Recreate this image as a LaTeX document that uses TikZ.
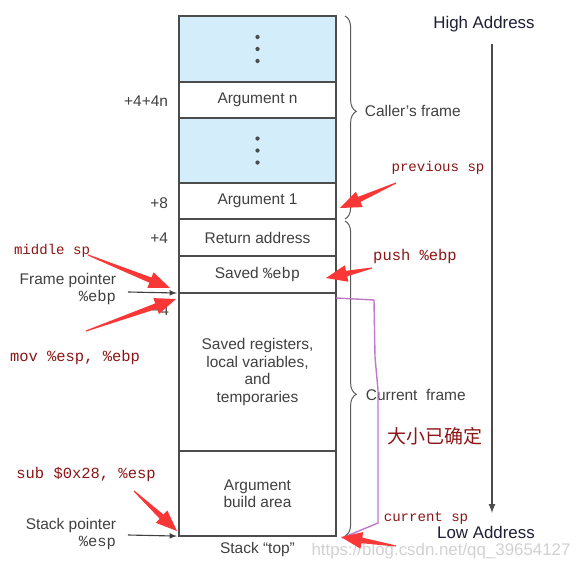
\documentclass[tikz,border=0pt]{standalone}
\usepackage{fontspec}
\setmainfont{Liberation Sans}
\setmonofont{Liberation Mono}
\newfontfamily\cjk{Noto Sans CJK SC}
\usepackage{tikz}
\usetikzlibrary{positioning, calc, decorations.pathreplacing}
\definecolor{cellblue}{RGB}{212,237,250}
\definecolor{annored}{RGB}{140,20,20}
\definecolor{arrowred}{RGB}{250,55,55}
\definecolor{framepurple}{RGB}{190,120,200}
\definecolor{addrnavy}{RGB}{30,30,55}
\tikzset{
    cell/.style={draw=black!70, line width=1.1pt, minimum width=3.925cm, inner sep=0pt, outer sep=0pt, align=center, text=black!75, font=\fontsize{11}{12.5}\selectfont},
    dotcell/.style={cell, fill=cellblue},
    offset/.style={anchor=east, text=black!75, font=\fontsize{11}{12}\selectfont},
    ptrlabel/.style={anchor=east, align=right, text=black!75, font=\fontsize{11}{11.5}\selectfont},
    ptr/.style={-latex, draw=black!75, line width=0.8pt, shorten >=1.5pt},
    framebrace/.style={draw=black!65, line width=0.7pt, decorate, decoration={brace, amplitude=8pt, aspect=#1}},
    framelabel/.style={anchor=west, text=black!75, font=\fontsize{11}{12}\selectfont},
    addr/.style={text=addrnavy, font=\fontsize{12}{14}\selectfont},
    addrline/.style={-latex, draw=black!70, line width=1.2pt},
    anno/.style={text=annored, font=\ttfamily\fontsize{#1}{12}\selectfont},
    anno/.default=10,
    redarrow/.style={fill=arrowred}
}
\newcommand{\fatarrow}[2]{%
    \coordinate (neck) at ($(#2)!15pt!(#1)$);
    \fill[redarrow] ($(#1)!0.4pt!90:(#2)$) -- ($(neck)!2pt!90:(#2)$) -- ($(neck)!6pt!90:(#2)$) -- (#2)
        -- ($(neck)!6pt!-90:(#2)$) -- ($(neck)!2pt!-90:(#2)$) -- ($(#1)!0.4pt!-90:(#2)$) -- cycle;}

\begin{document}
\begin{tikzpicture}[x=0.025cm, y=-0.025cm]
    \useasboundingbox (0,0) rectangle (584,563);

    \node[text=black!18, font=\fontsize{12}{13}\selectfont] (mark) at (441,551) {https://blog.csdn.net/qq\_39654127};

    \node[dotcell, minimum height=1.65cm] (dots1) at (257.5,49) {};
    \node[cell, minimum height=0.9cm, below=0pt of dots1] (argn) {Argument n};
    \node[dotcell, minimum height=1.625cm, below=0pt of argn] (dots2) {};
    \node[cell, minimum height=0.9cm, below=0pt of dots2] (arg1) {Argument 1};
    \node[cell, minimum height=0.925cm, below=0pt of arg1] (ret) {Return address};
    \node[cell, minimum height=0.925cm, below=0pt of ret] (sebp) {Saved \texttt{\%ebp}};
    \node[cell, minimum height=3.95cm, below=0pt of sebp] (regs) {Saved registers,\\local variables,\\and\\temporaries};
    \node[cell, minimum height=2.125cm, below=0pt of regs] (build) {Argument\\build area};
    \node[text=black!75, font=\fontsize{11}{12}\selectfont, below=1pt of build] (top) {Stack “top”};

    \foreach \c in {dots1, dots2}
        \foreach \dy in {-12, 0, 12}
            \fill[black!70] ($(\c.center)+(0,\dy)$) circle (1.5pt);

    \node[offset] (offn) at (173,101) {+4+4n};
    \node[offset] (off8) at (173,203) {+8};
    \node[offset] (off4) at (173,238) {+4};
    \node[offset] (offm4) at (174,310) {−4};

    \node[ptrlabel] (fp) at (121,289) {Frame pointer\\\texttt{\%ebp}};
    \node[ptrlabel] (sp) at (121,534) {Stack pointer\\\texttt{\%esp}};
    \coordinate (fptail) at (128,292);
    \coordinate (sptail) at (128,535);
    \draw[ptr] (fptail) -- (sebp.south west);
    \draw[ptr] (sptail) -- (build.south west);

    \draw[framebrace=0.47] (345,16) -- (345,219);
    \draw[framebrace=0.55] (345,221) -- (345,536);
    \node[framelabel] (caller) at (360,111) {Caller’s frame};
    \node[framelabel] (current) at (361,395) {Current\ \ frame};

    \node[addr] (high) at (484,24) {High Address};
    \node[addr] (low) at (486,532) {Low Address};
    \coordinate (hightail) at (492,44);
    \coordinate (lowtip) at (492,513);
    \draw[addrline] (hightail) -- (lowtip);

    \draw[framepurple, line width=1pt] (336,298) -- (374,300) -- (375,357) -- (378,390) -- (378,523) -- (342,538);
    \node[text=annored, font=\cjk\fontsize{13.5}{15}\selectfont] (fixed) at (435,436) {大小已确定};

    \node[anno] (prevsp) at (438,168) {previous sp};
    \node[anno=11] (pushebp) at (415,257) {push \%ebp};
    \node[anno] (midsp) at (52,251) {middle sp};
    \node[anno=11] (movebp) at (75,357) {mov \%esp, \%ebp};
    \node[anno=11] (subesp) at (86,474) {sub \$0x28, \%esp};
    \node[anno] (cursp) at (426,518) {current sp};

    \coordinate (prevtail) at (396,183);
    \coordinate (prevtip) at (340,208);
    \coordinate (pushtail) at (372,268);
    \coordinate (pushtip) at (326,278);
    \coordinate (midtail) at (88,255);
    \coordinate (midtip) at (170,288);
    \coordinate (movtail) at (86,331);
    \coordinate (movtip) at (176,299);
    \coordinate (subtail) at (134,491);
    \coordinate (subtip) at (177,531);
    \coordinate (curtail) at (396,546);
    \coordinate (curtip) at (341,537);
    \fatarrow{prevtail}{prevtip}
    \fatarrow{pushtail}{pushtip}
    \fatarrow{midtail}{midtip}
    \fatarrow{movtail}{movtip}
    \fatarrow{subtail}{subtip}
    \fatarrow{curtail}{curtip}
\end{tikzpicture}
\end{document}
